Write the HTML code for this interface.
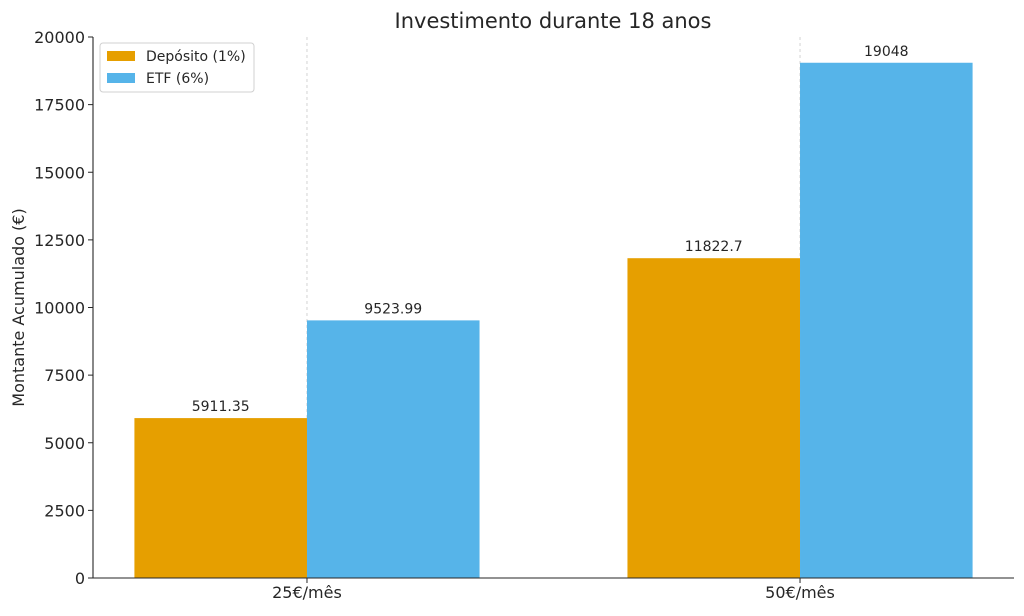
<!DOCTYPE html>
<html><head><meta charset="utf-8"><style>
body{margin:0;background:#fff;font-family:"Liberation Sans","DejaVu Sans",sans-serif}
svg text{font-family:"DejaVu Sans","Liberation Sans",sans-serif;fill:#262626}
</style></head><body>
<svg id="chart" width="1024" height="611" xmlns="http://www.w3.org/2000/svg">
<text x="553" y="28" text-anchor="middle" font-size="21">Investimento durante 18 anos</text>
<g id="plot"></g>
</svg>
<script>
const categories=["25€/mês","50€/mês"];
const seriesNames=["Depósito (1%)","ETF (6%)"];
const deposito=[5911.35,11822.7];
const etf=[9523.99,19048];
const depositoLabels=["5911.35","11822.7"];
const etfLabels=["9523.99","19048"];
const yTicks=[0,2500,5000,7500,10000,12500,15000,17500,20000];
const colors=["#E69F00","#56B4E9"];
const L=93,R=1014,T=37,B=578;
const xMin=-0.434,xMax=1.434,yMax=20000;
const xs=v=>L+(v-xMin)/(xMax-xMin)*(R-L);
const ys=v=>B-v/yMax*(B-T);
const g=document.getElementById('plot');
const NS="http://www.w3.org/2000/svg";
function mk(t,a,txt){const e=document.createElementNS(NS,t);for(const k in a)e.setAttribute(k,a[k]);if(txt!==undefined)e.textContent=txt;g.appendChild(e);return e;}
const w=0.35;
categories.forEach((c,i)=>{
 const gl=mk('line',{x1:xs(i),x2:xs(i),y1:T,y2:B,stroke:'#c8c8c8','stroke-dasharray':'3,3','stroke-width':0.8});
 
 
});
[deposito,etf].forEach((ser,s)=>{
 const labs=s===0?depositoLabels:etfLabels;
 ser.forEach((v,i)=>{
  const x0=xs(i+(s===0?-w:0)),x1=xs(i+(s===0?0:w));
  const r=mk('rect',{x:x0,y:ys(v),width:x1-x0,height:B-ys(v),fill:colors[s]});
  
  
  const t=mk('text',{x:(x0+x1)/2,y:ys(v)-7,'text-anchor':'middle','font-size':14},labs[i]);
  
  
 });
});
yTicks.forEach(v=>{
 const tk=mk('line',{x1:L-5,x2:L,y1:ys(v),y2:ys(v),stroke:'#262626'});
 
 
 const t=mk('text',{x:L-8,y:ys(v)+6,'text-anchor':'end','font-size':16},String(v));
 
 
});
categories.forEach((c,i)=>{
 const tk=mk('line',{x1:xs(i),x2:xs(i),y1:B,y2:B+5,stroke:'#262626'});
 
 
 const t=mk('text',{x:xs(i),y:B+20,'text-anchor':'middle','font-size':16},c);
 
 
});
const ax=mk('path',{d:`M${L},${T}V${B}H${R}`,fill:'none',stroke:'#262626','stroke-width':1.1});


const yl=mk('text',{x:0,y:0,'text-anchor':'middle','font-size':16,transform:`translate(24,${(T+B)/2}) rotate(-90)`},'Montante Acumulado (€)');


const lb=mk('rect',{x:100,y:43,width:154,height:49,rx:3,fill:'#fff',stroke:'#d0d0d0'});


seriesNames.forEach((n,s)=>{
 const sw=mk('rect',{x:107,y:51+s*22,width:28,height:10,fill:colors[s]});
 
 
 const t=mk('text',{x:146,y:61+s*22,'font-size':14},n);
 
 
});
</script>
</body></html>
